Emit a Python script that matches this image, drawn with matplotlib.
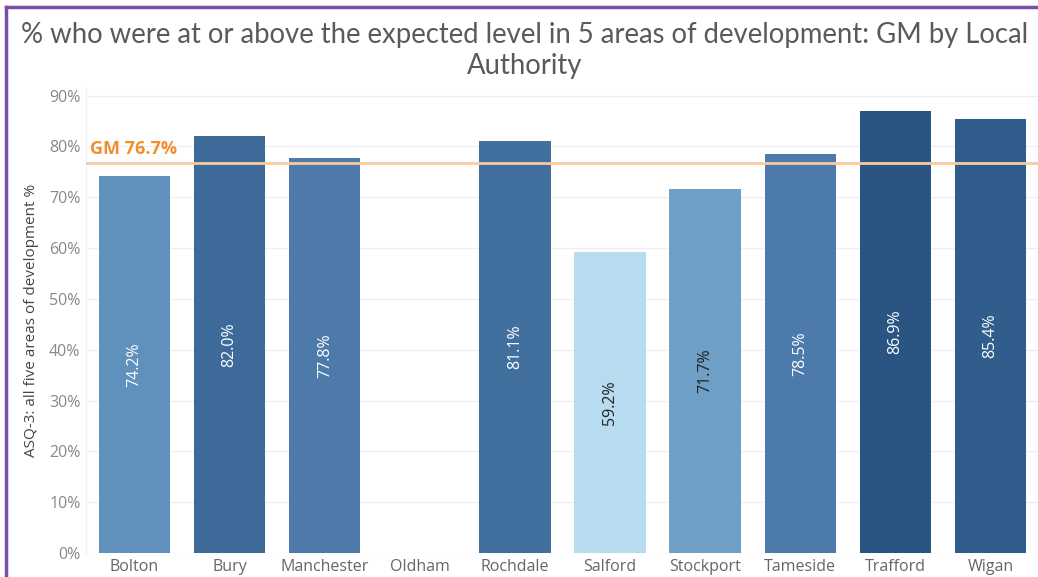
import numpy as np
import matplotlib
matplotlib.use("Agg")
import matplotlib.pyplot as plt
from matplotlib.lines import Line2D

areas = ["Bolton", "Bury", "Manchester", "Oldham", "Rochdale", "Salford",
         "Stockport", "Tameside", "Trafford", "Wigan"]
values = [74.2, 82.0, 77.8, np.nan, 81.1, 59.2, 71.7, 78.5, 86.9, 85.4]
bar_colors = ["#5f91bc", "#3e6a9a", "#4d7aab", "#ffffff", "#41709f", "#b8dcef",
              "#6d9fc7", "#4c7aaa", "#2a5582", "#305d8b"]
label_colors = ["white", "white", "white", "white", "white", "#222222",
                "#222222", "white", "white", "white"]
gm_value = 76.7
yticks = [0, 10, 20, 30, 40, 50, 60, 70, 80, 90]

plt.rcParams['font.family'] = ['Open Sans', 'DejaVu Sans']

fig = plt.figure(figsize=(10.38, 5.77), dpi=100)
ax = fig.add_axes([0.0829, 0.0416, 0.9171, 0.8059])

x = np.arange(len(areas))
vals = np.array(values, dtype=float)
ax.bar(x, np.nan_to_num(vals), width=0.75, color=bar_colors, zorder=2)

for xi, v, c in zip(x, vals, label_colors):
    if np.isnan(v):
        continue
    ax.text(xi, v / 2, f"{v:.1f}%", rotation=90, ha="center", va="center",
            color=c, fontsize=11.5, zorder=3)

ax.axhline(gm_value, color="#f9c9a0", lw=2, zorder=3)
ax.text(0.004, 0.868, f"GM {gm_value}%", transform=ax.transAxes, color="#f28e2b",
        fontsize=13, fontweight="bold", ha="left", va="center")

ax.set_xlim(-0.51, 9.5)
ax.set_ylim(0, 91.5)
ax.set_xticks(x)
ax.set_xticklabels(areas, color="#666666", fontsize=11.5)
ax.set_yticks(yticks)
ax.set_yticklabels([f"{t}%" for t in yticks], color="#888888", fontsize=11.5)
ax.tick_params(length=0, pad=4)
ax.yaxis.grid(True, color="#f0f0f0", lw=1, zorder=0)
for s in ax.spines.values():
    s.set_visible(False)
ax.spines['left'].set_visible(True)
ax.spines['left'].set_color("#f0f0f0")
ax.set_ylabel("ASQ-3: all five areas of development %", color="#444444", fontsize=11, labelpad=7)

fig.text(0.505, 0.940, "% who were at or above the expected level in 5 areas of development: GM by Local",
         ha="center", va="center", fontsize=19.8, color="#5a5a5a",
         family=['Lato', 'DejaVu Sans'])
fig.text(0.505, 0.885, "Authority", ha="center", va="center", fontsize=19.8, color="#5a5a5a",
         family=['Lato', 'DejaVu Sans'])

# purple frame (top and left)
fig.add_artist(Line2D([0.0058, 1.0], [0.9887, 0.9887], transform=fig.transFigure, color="#7b4fa5", lw=2.5))
fig.add_artist(Line2D([0.0058, 0.0058], [0.0, 0.9887], transform=fig.transFigure, color="#7b4fa5", lw=2.5))

fig.savefig("out.png", dpi=100)
